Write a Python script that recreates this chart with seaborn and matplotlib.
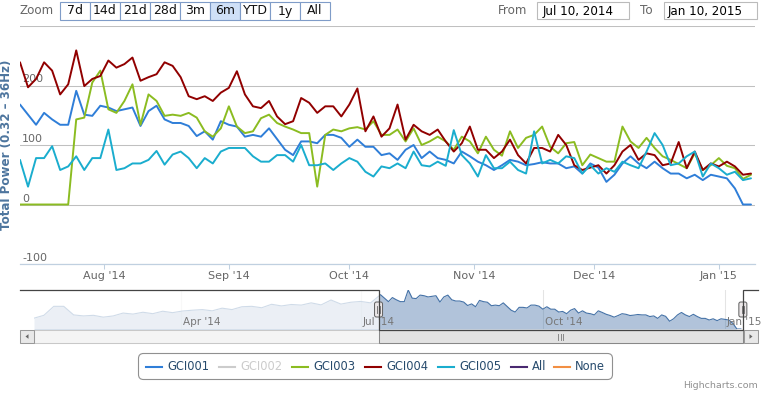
import numpy as np
import pandas as pd
import matplotlib
matplotlib.use('Agg')
import matplotlib.pyplot as plt
import matplotlib.dates as mdates
import matplotlib.transforms as mtransforms
from matplotlib.patches import Rectangle, FancyBboxPatch, Polygon
import seaborn as sns

# ---------------- data ----------------
start = pd.Timestamp('2014-07-11')
dates = pd.date_range(start, periods=92, freq='2D')

gci001 = [168, 151, 134, 154, 143, 134, 134, 191, 151, 149, 166, 163, 157, 160, 163, 132, 157, 166, 143, 137, 137, 132, 115,
          123, 109, 140, 134, 131, 114, 117, 114, 128, 110, 92, 83, 106, 106, 103, 117, 117, 112, 97, 109, 97, 97, 83,
          86, 75, 92, 100, 78, 89, 78, 75, 69, 89, 81, 72, 66, 58, 66, 75, 72, 66, 68, 71, 69, 69, 61,
          64, 52, 69, 62, 38, 50, 69, 81, 69, 61, 72, 61, 52, 52, 44, 50, 41, 50, 47, 44, 27, 0, 0]
gci003 = [0, 0, 0, 0, 0, 0, 0, 143, 146, 205, 225, 160, 154, 174, 202, 134, 185, 174, 149, 151, 149, 154, 146,
          123, 114, 128, 165, 131, 120, 123, 145, 151, 137, 131, 126, 120, 120, 30, 117, 126, 123, 128, 130, 126, 140, 117,
          117, 126, 106, 128, 100, 106, 114, 106, 92, 114, 106, 86, 114, 92, 82, 123, 95, 112, 117, 131, 97, 86, 103,
          105, 66, 84, 78, 72, 72, 131, 106, 95, 112, 95, 81, 75, 68, 61, 86, 58, 66, 78, 65, 61, 43, 50]
gci004 = [239, 197, 211, 239, 225, 185, 202, 259, 199, 211, 216, 242, 230, 236, 247, 208, 214, 219, 239, 233, 214, 182, 177,
          182, 174, 188, 196, 224, 185, 165, 162, 174, 148, 135, 140, 179, 171, 154, 165, 165, 148, 168, 195, 123, 148, 114,
          128, 168, 109, 134, 123, 117, 126, 106, 89, 103, 131, 92, 92, 78, 89, 109, 83, 69, 95, 95, 89, 117, 100,
          66, 58, 62, 66, 52, 66, 89, 100, 75, 86, 83, 66, 69, 105, 61, 89, 58, 69, 64, 72, 64, 50, 52]
gci005 = [75, 30, 78, 78, 98, 58, 64, 81, 58, 78, 78, 126, 58, 61, 69, 69, 75, 90, 67, 84, 89, 78, 61,
          78, 69, 89, 95, 95, 95, 81, 72, 72, 83, 83, 72, 100, 66, 66, 69, 58, 69, 78, 72, 55, 47, 64,
          61, 69, 61, 89, 66, 64, 72, 65, 125, 83, 69, 47, 83, 61, 61, 72, 58, 52, 123, 69, 75, 69, 81,
          78, 52, 66, 52, 61, 55, 72, 66, 61, 89, 120, 100, 66, 69, 81, 89, 47, 69, 61, 50, 55, 41, 44]

series_names = ['GCI001', 'GCI002', 'GCI003', 'GCI004', 'GCI005', 'All', 'None']
series_colors = ['#2f7ed8', '#0d233a', '#8bbc21', '#910000', '#1aadce', '#492970', '#f28f43']
hidden_series = ['GCI002']
visible_series = ['GCI001', 'GCI003', 'GCI004', 'GCI005']

# navigator: earlier part of GCI001 (Jan - Jul 2014), 5-day steps
nav_early_dates = pd.date_range('2014-01-17', periods=35, freq='5D')
nav_early = [53, 67, 111, 111, 69, 64, 67, 58, 64, 78, 73, 82, 75, 87, 80, 88, 92, 95, 89, 102, 95, 109, 111, 104,
             121, 113, 120, 117, 128, 118, 142, 122, 131, 135, 128]

y_ticks = [-100, 0, 100, 200, 300]
y_labels = ['-100', '0', '100', '200']
x_tick_dates = ['2014-08-01', '2014-09-01', '2014-10-01', '2014-11-01', '2014-12-01', '2015-01-01']
x_tick_labels = ["Aug '14", "Sep '14", "Oct '14", "Nov '14", "Dec '14", "Jan '15"]
nav_tick_dates = ['2014-04-01', '2014-07-01', '2014-10-01', '2015-01-01']
nav_tick_labels = ["Apr '14", "Jul '14", "Oct '14", "Jan '15"]
zoom_buttons = ['7d', '14d', '21d', '28d', '3m', '6m', 'YTD', '1y', 'All']
selected_button = '6m'
sel_from = pd.Timestamp('2014-07-10')
sel_to = pd.Timestamp('2015-01-10')
y_title = 'Total Power (0.32 – 36Hz)'

# ---------------- figure ----------------
W, H = 762, 393
fig = plt.figure(figsize=(W / 100, H / 100), dpi=100, facecolor='white')


def frect(l, t, r, b):
    return [l / W, 1 - b / H, (r - l) / W, (b - t) / H]


ax = fig.add_axes(frect(20, 26, 755, 264))
nav = fig.add_axes(frect(34, 290, 744, 329))

# main series
df = pd.DataFrame({'date': dates, 'GCI001': gci001, 'GCI003': gci003, 'GCI004': gci004, 'GCI005': gci005})
long = df.melt(id_vars='date', var_name='series', value_name='value')
palette = dict(zip(series_names, series_colors))
sns.lineplot(data=long, x='date', y='value', hue='series', hue_order=visible_series,
             palette=palette, linewidth=1.4, estimator=None, legend=False, ax=ax,
             solid_joinstyle='round', solid_capstyle='round')

ax.set_xlim(start, sel_to)
ax.set_ylim(-100, 300)
ax.set_yticks(y_ticks)
ax.set_yticklabels([])
ax.tick_params(axis='y', length=0)
ax.grid(axis='y', color='#C0C0C0', linewidth=0.75)
ax.grid(axis='x', visible=False)
ax.set_axisbelow(True)
for s in ['top', 'right', 'left']:
    ax.spines[s].set_visible(False)
ax.spines['bottom'].set_color('#C0D0E0')
ax.spines['bottom'].set_linewidth(0.9)
ax.set_xticks(pd.to_datetime(x_tick_dates))
ax.set_xticklabels(x_tick_labels, fontsize=8, color='#666666')
ax.tick_params(axis='x', length=3.6, color='#C0D0E0', width=0.75, pad=1.5)
ax.set_xlabel('')
ax.set_ylabel('')
ax.set_facecolor('white')

ytrans = mtransforms.offset_copy(ax.get_yaxis_transform(), fig=fig, x=2, y=6, units='dots')
for v, lab in zip(y_ticks, y_labels):
    ax.text(0, v, lab, transform=ytrans, ha='left', va='center', fontsize=8, color='#666666', zorder=1)

fig.text(7 / W, 1 - 145 / H, y_title, rotation=90, ha='center', va='center',
         fontsize=8.6, fontweight='bold', color='#4d759e')

# navigator
nav_dates = nav_early_dates.append(dates)
nav_vals = list(nav_early) + list(gci001)
nav_df = pd.DataFrame({'date': nav_dates, 'value': nav_vals})
nav.fill_between(nav_df['date'], nav_df['value'], 0, color='#4572A7', alpha=0.42, linewidth=0, zorder=1)
sns.lineplot(data=nav_df, x='date', y='value', color='#4572A7', linewidth=0.8, ax=nav, estimator=None)
nav_xmin = nav_early_dates[0]
nav_xmax = sel_to + pd.Timedelta(hours=14)
nav.set_xlim(nav_xmin, nav_xmax)
nav.set_ylim(0, max(nav_vals))
nav.axvspan(nav_xmin, sel_from, color='white', alpha=0.75, linewidth=0, zorder=3)
nav.axvspan(sel_to, nav_xmax, color='white', alpha=0.75, linewidth=0, zorder=3)
nav.set_xticks(pd.to_datetime(nav_tick_dates))
nav.grid(axis='x', color='#e4e4e4', linewidth=0.75)
nav.grid(axis='y', visible=False)
nav.set_axisbelow(True)
nav.tick_params(length=0, labelbottom=False, labelleft=False)
nav.set_yticks([])
nav.set_xlabel('')
nav.set_ylabel('')
for s in nav.spines.values():
    s.set_visible(False)
ntrans = mtransforms.offset_copy(nav.get_xaxis_transform(), fig=fig, x=2, y=2, units='dots')
for d, lab in zip(pd.to_datetime(nav_tick_dates), nav_tick_labels):
    nav.text(d, 0, lab, transform=ntrans, ha='left', va='bottom', fontsize=7.5, color='#777777', zorder=5,
             clip_on=False)

# overlay in pixel coordinates (y downwards)
over = fig.add_axes([0, 0, 1, 1], zorder=10)
over.set_xlim(0, W)
over.set_ylim(H, 0)
over.axis('off')
over.patch.set_alpha(0)


def nav_px(date):
    p = nav.transData.transform((mdates.date2num(date), 0))
    return p[0]


x1 = nav_px(sel_from)
x2 = nav_px(sel_to)

# scrollbar
over.add_patch(Rectangle((34, 330), 710, 13, fc='#f4f4f4', ec='#c8c8c8', lw=0.75))
over.add_patch(Rectangle((x1, 330), x2 - x1, 13, fc='#e2e2e2', ec='#888888', lw=0.75))
over.add_patch(Rectangle((20, 330), 14, 13, fc='#e8e8e8', ec='#999999', lw=0.75))
over.add_patch(Rectangle((744, 330), 14, 13, fc='#e8e8e8', ec='#999999', lw=0.75))
over.add_patch(Polygon([(25.5, 336.5), (28.5, 334.2), (28.5, 338.8)], closed=True, fc='#666666', ec='none'))
over.add_patch(Polygon([(752.5, 336.5), (749.5, 334.2), (749.5, 338.8)], closed=True, fc='#666666', ec='none'))
xc = (x1 + x2) / 2
for dx in (-2.5, 0, 2.5):
    over.plot([xc + dx, xc + dx], [333.5, 339.5], color='#888888', lw=0.7)

# navigator outline
over.plot([20, x1, x1, x2, x2, 758], [290, 290, 329.5, 329.5, 290, 290], color='#444444', lw=0.9,
          solid_joinstyle='miter')

# handles
for hx in (x1, x2):
    over.add_patch(FancyBboxPatch((hx - 4, 302), 8, 15, boxstyle='round,pad=0,rounding_size=2',
                                  fc='#ebe7e8', ec='#666666', lw=0.75))
    for dx in (-1.3, 1.3):
        over.plot([hx + dx, hx + dx], [306, 313], color='#666666', lw=0.6)

# range selector
over.text(20, 11, 'Zoom', ha='left', va='center', fontsize=8.6, color='#666666')
for i, lab in enumerate(zoom_buttons):
    bx = 60 + 30 * i
    fc = '#cfe0f7' if lab == selected_button else 'white'
    over.add_patch(Rectangle((bx, 1.5), 30, 18.5, fc=fc, ec='#7f9cc8', lw=0.8))
    over.text(bx + 15, 11, lab, ha='center', va='center', fontsize=9, color='#111111')

over.text(498, 11, 'From', ha='left', va='center', fontsize=8.6, color='#666666')
over.add_patch(Rectangle((537, 2), 92, 17, fc='white', ec='#bbbbbb', lw=0.8))
over.text(543, 11, sel_from.strftime('%b %d, %Y'), ha='left', va='center', fontsize=8.6, color='#000000')
over.text(640, 11, 'To', ha='left', va='center', fontsize=8.6, color='#666666')
over.add_patch(Rectangle((664, 2), 93, 17, fc='white', ec='#bbbbbb', lw=0.8))
over.text(668, 11, sel_to.strftime('%b %d, %Y'), ha='left', va='center', fontsize=8.6, color='#000000')

# legend
over.add_patch(FancyBboxPatch((138.5, 353.5), 474, 26, boxstyle='round,pad=0,rounding_size=5',
                              fc='white', ec='#909090', lw=0.8))
sym_x = [146, 219, 292, 365, 438, 511, 554]
for sx, name, col in zip(sym_x, series_names, series_colors):
    hidden = name in hidden_series
    c_line = '#cccccc' if hidden else col
    c_txt = '#cccccc' if hidden else '#274b6d'
    over.plot([sx, sx + 16], [366.5, 366.5], color=c_line, lw=1.5)
    over.text(sx + 21, 366.5, name, ha='left', va='center', fontsize=8.3, color=c_txt)

over.text(758, 386, 'Highcharts.com', ha='right', va='center', fontsize=6.8, color='#909090')

fig.savefig('out.png', dpi=100, facecolor='white')
